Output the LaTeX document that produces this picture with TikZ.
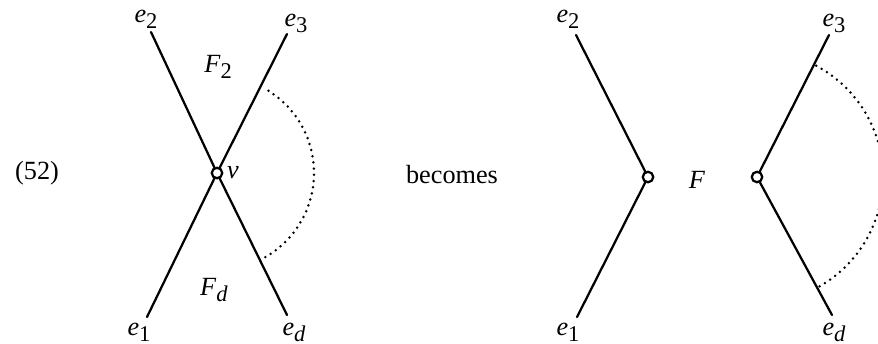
\documentclass[tikz,border=0pt]{standalone}
\usepackage{fontspec}
\setmainfont{Liberation Serif}
\newcommand{\elab}[2]{\textit{#1}\raisebox{-0.5ex}{\small #2}}
\begin{document}
\begin{tikzpicture}[x=0.4pt, y=0.4pt, font=\fontsize{10.5}{12}\selectfont, line join=round, line cap=round, line width=0.9pt]
	\tikzset{vert/.style={circle, draw, fill=white, inner sep=0pt, minimum size=4.2pt},
		arcdots/.style={line width=1.1pt, dash pattern=on 0pt off 2.5pt}}
	\useasboundingbox (0,0) rectangle (878,343);
	% before
	\node at (37,170) {(52)};
	\node[vert] (v) at (217,170) {};
	\coordinate (a1) at (147,26);
	\coordinate (a2) at (151,311);
	\coordinate (a3) at (287,309);
	\coordinate (ad) at (287,28);
	\foreach \c in {a1, a2, a3, ad} {
		\draw (v) -- (\c);
	}
	\draw[arcdots] ([shift={(58:97)}]v.center) arc[start angle=58, end angle=-61, radius=97];
	\node[anchor=west, inner sep=1pt] (vlab) at (v.east) {\textit{v}};
	\node (la1) at (139,11) {\elab{e}{1}};
	\node (la2) at (146,324) {\elab{e}{2}};
	\node (la3) at (296,320) {\elab{e}{3}};
	\node (lad) at (294,11) {\elab{e}{\textit{d}}};
	\node (f2) at (218,276) {\elab{F}{2}};
	\node (fd) at (214,53) {\elab{F}{\textit{d}}};
	\node at (452,168) {becomes};
	% after
	\node[vert] (vl) at (648,166) {};
	\node[vert] (vr) at (757,166) {};
	\coordinate (b1) at (577,26);
	\coordinate (b2) at (576,308);
	\coordinate (b3) at (829,308);
	\coordinate (bd) at (832,28);
	\draw (vl) -- (b1);
	\draw (vl) -- (b2);
	\draw (vr) -- (b3);
	\draw (vr) -- (bd);
	\draw[arcdots] ([shift={(62:126)}]vr.center) arc[start angle=62, end angle=-61, radius=126];
	\node (f) at (697,163) {\textit{F}};
	\node (lb1) at (568,11) {\elab{e}{1}};
	\node (lb2) at (568,324) {\elab{e}{2}};
	\node (lb3) at (834,320) {\elab{e}{3}};
	\node (lbd) at (834,11) {\elab{e}{\textit{d}}};
\end{tikzpicture}
\end{document}
